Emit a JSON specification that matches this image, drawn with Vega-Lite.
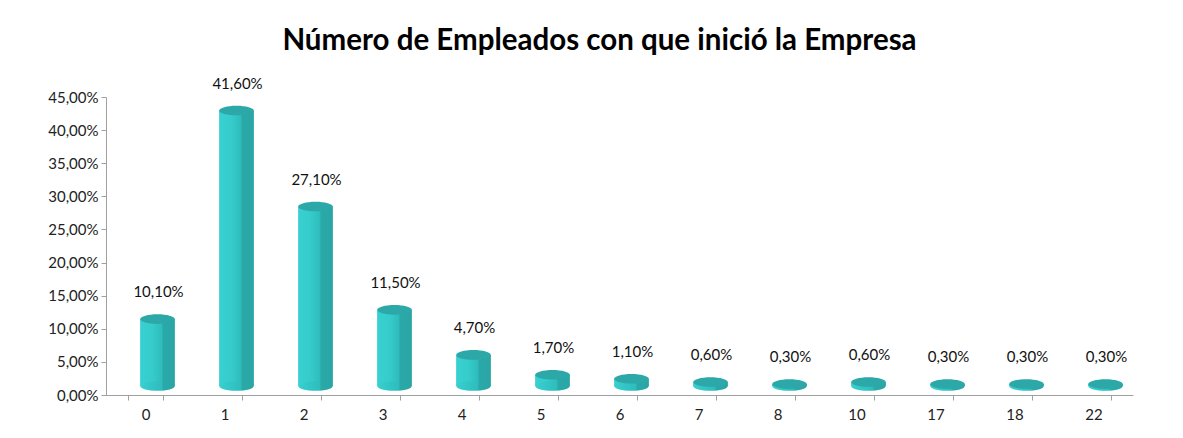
{
  "$schema": "https://vega.github.io/schema/vega-lite/v6.json",
  "width": 1027,
  "height": 298,
  "autosize": {"type": "none"},
  "padding": {"left": 106, "top": 97, "right": 50, "bottom": 43},
  "background": "white",
  "config": {
    "locale": {"number": {"decimal": ",", "thousands": ".", "grouping": [3], "currency": ["", " €"]}},
    "view": {"stroke": null},
    "font": "Lato"
  },
  "title": {
    "text": "Número de Empleados con que inició la Empresa",
    "font": "Lato",
    "fontSize": 29.5,
    "fontWeight": "bold",
    "color": "#000000",
    "anchor": "middle",
    "frame": "group",
    "dx": -20,
    "offset": 20
  },
  "data": {
    "values": [
      {"empleados": "0", "pct": 0.101},
      {"empleados": "1", "pct": 0.416},
      {"empleados": "2", "pct": 0.271},
      {"empleados": "3", "pct": 0.115},
      {"empleados": "4", "pct": 0.047},
      {"empleados": "5", "pct": 0.017},
      {"empleados": "6", "pct": 0.011},
      {"empleados": "7", "pct": 0.006},
      {"empleados": "8", "pct": 0.003},
      {"empleados": "10", "pct": 0.006},
      {"empleados": "17", "pct": 0.003},
      {"empleados": "18", "pct": 0.003},
      {"empleados": "22", "pct": 0.003}
    ]
  },
  "encoding": {
    "x": {
      "field": "empleados",
      "type": "ordinal",
      "sort": null,
      "title": null,
      "scale": {"paddingInner": 0.56, "paddingOuter": 0.28},
      "axis": {
        "labelAngle": 0,
        "labelFont": "Lato",
        "labelFontSize": 15,
        "labelColor": "#222222",
        "labelPadding": 7,
        "domainColor": "#a0a0a0",
        "tickColor": "#a0a0a0",
        "tickBand": "extent",
        "tickSize": 5
      }
    },
    "y": {
      "field": "pct",
      "type": "quantitative",
      "title": null,
      "scale": {"domain": [0, 0.45]},
      "axis": {
        "format": ".2%",
        "values": [0, 0.05, 0.1, 0.15, 0.2, 0.25, 0.3, 0.35, 0.4, 0.45],
        "grid": false,
        "labelFont": "Lato",
        "labelFontSize": 15,
        "labelColor": "#222222",
        "labelPadding": 3,
        "domainColor": "#a0a0a0",
        "tickColor": "#a0a0a0",
        "tickSize": 5
      }
    }
  },
  "layer": [
    {
      "mark": {
        "type": "bar",
        "xOffset": 12,
        "yOffset": -9,
        "fill": {
          "gradient": "linear",
          "x1": 0, "y1": 0, "x2": 1, "y2": 0,
          "stops": [
            {"offset": 0, "color": "#38d0d0"},
            {"offset": 0.35, "color": "#36cccc"},
            {"offset": 0.62, "color": "#2fbcbc"},
            {"offset": 0.66, "color": "#2aa9a9"},
            {"offset": 1, "color": "#2aa5a5"}
          ]
        }
      }
    },
    {
      "mark": {
        "type": "point",
        "filled": true,
        "shape": "M-1,0 A1,0.28 0 1,0 1,0 A1,0.28 0 1,0 -1,0 Z",
        "size": 1190,
        "xOffset": 12,
        "yOffset": -9,
        "opacity": 1,
        "fill": {
          "gradient": "linear",
          "x1": 0, "y1": 0, "x2": 1, "y2": 0,
          "stops": [
            {"offset": 0, "color": "#38d0d0"},
            {"offset": 0.62, "color": "#2fbcbc"},
            {"offset": 0.66, "color": "#2aa9a9"},
            {"offset": 1, "color": "#2aa5a5"}
          ]
        }
      },
      "encoding": {"y": {"datum": 0}}
    },
    {
      "mark": {
        "type": "point",
        "filled": true,
        "shape": "M-1,0 A1,0.28 0 1,0 1,0 A1,0.28 0 1,0 -1,0 Z",
        "size": 1190,
        "xOffset": 12,
        "yOffset": -9,
        "opacity": 1,
        "fill": "#2da8a8"
      }
    },
    {
      "mark": {
        "type": "text",
        "xOffset": 13,
        "dy": -36,
        "font": "Lato",
        "fontSize": 15,
        "color": "#111111"
      },
      "encoding": {"text": {"field": "pct", "type": "quantitative", "format": ".2%"}}
    }
  ]
}
